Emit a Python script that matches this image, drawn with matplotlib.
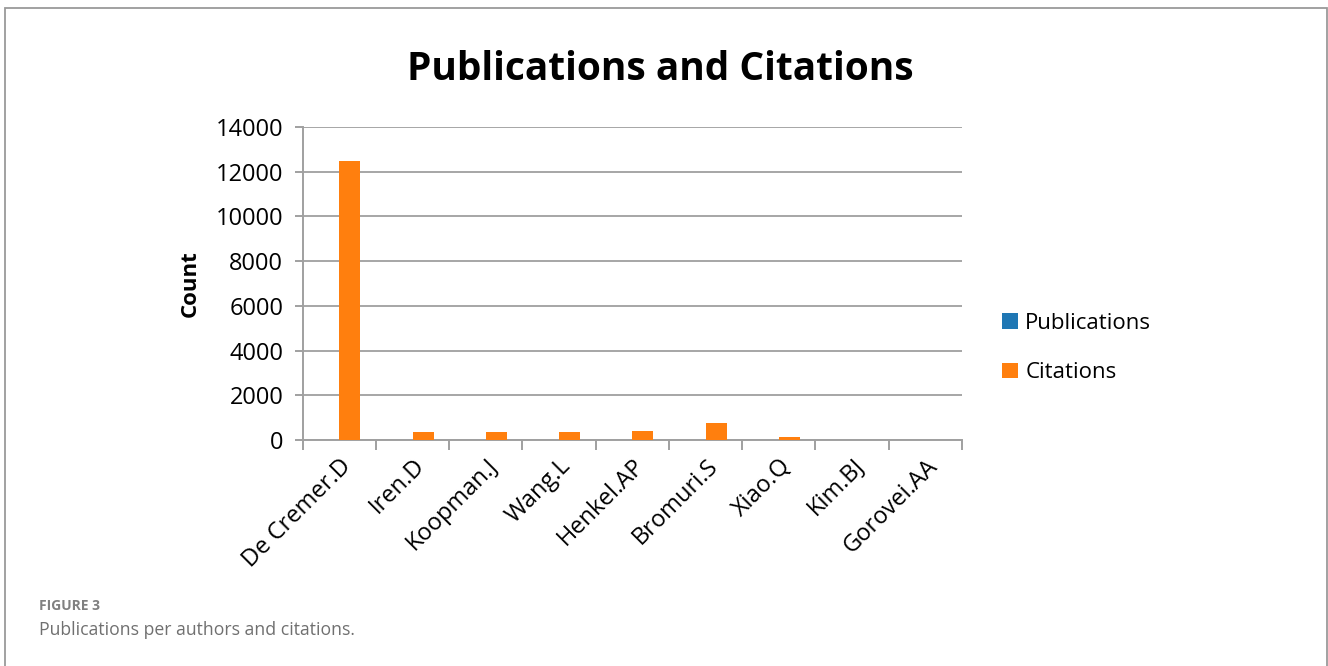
import matplotlib
matplotlib.use("Agg")
import matplotlib.pyplot as plt
from matplotlib.patches import Rectangle, Patch
import numpy as np

authors = ["De Cremer.D", "Iren.D", "Koopman.J", "Wang.L", "Henkel.AP",
           "Bromuri.S", "Xiao.Q", "Kim.BJ", "Gorovei.AA"]
publications = [8, 6, 5, 5, 5, 4, 4, 4, 4]
citations = [12500, 370, 370, 370, 390, 750, 120, 15, 10]
y_ticks = [0, 2000, 4000, 6000, 8000, 10000, 12000, 14000]

W, H = 1328, 666
plt.rcParams["font.family"] = ["Open Sans", "DejaVu Sans"]

fig = plt.figure(figsize=(W / 100, H / 100), dpi=100)
fig.patch.set_facecolor("white")

# outer frame
fig.add_artist(Rectangle((4.5 / W, -0.05), (1327 - 4.5) / W, 1.05 - 8.5 / H,
                         transform=fig.transFigure, fill=False,
                         edgecolor="#9a9a9a", linewidth=1.3))

left, right, top, bottom = 302.7, 962.0, 127.0, 440.0
ax = fig.add_axes([left / W, 1 - bottom / H, (right - left) / W, (bottom - top) / H])

x = np.arange(len(authors))
bw = 0.2857
ax.bar(x - bw / 2, publications, width=bw, color="#1f77b4", label="Publications", zorder=3)
ax.bar(x + bw / 2, citations, width=bw, color="#ff7f0e", label="Citations", zorder=3)

ax.set_xlim(-0.5, len(authors) - 0.5)
ax.set_ylim(0, 14000)
ax.set_yticks(y_ticks)
ax.set_yticklabels([str(v) for v in y_ticks], fontsize=17)
ax.yaxis.grid(True, color="#a6a6a6", linewidth=1.4, zorder=0)
ax.set_axisbelow(True)

for s in ["top", "right"]:
    ax.spines[s].set_visible(False)
for s in ["left", "bottom"]:
    ax.spines[s].set_color("#a0a0a0")
    ax.spines[s].set_linewidth(1.4)

ax.tick_params(axis="y", length=6, width=1.4, color="#a0a0a0", pad=8)
ax.set_xticks(x)
ax.set_xticklabels(authors, rotation=45, ha="right", va="top",
                   rotation_mode="anchor", fontsize=17)
ax.tick_params(axis="x", which="major", length=0, pad=10)
ax.set_xticks(np.arange(-0.5, len(authors)), minor=True)
ax.tick_params(axis="x", which="minor", length=7, width=1.4, color="#a0a0a0")

ax.set_ylabel("Count", fontsize=16, fontweight="bold", labelpad=11)

fig.text(660 / W, 1 - 70 / H, "Publications and Citations", fontsize=28,
         fontweight="bold", ha="center", va="center")

handles = [Patch(facecolor="#1f77b4", label="Publications"),
           Patch(facecolor="#ff7f0e", label="Citations")]
fig.legend(handles=handles, loc="center left",
           bbox_to_anchor=(982 / W, 1 - 348 / H), frameon=False,
           fontsize=16, handlelength=0.7, handleheight=0.7,
           handletextpad=0.35, labelspacing=1.3)

fig.text(39 / W, 1 - 606 / H, "FIGURE 3", fontsize=10, fontweight="bold",
         color="#808080", ha="left", va="center")
fig.text(39 / W, 1 - 630 / H, "Publications per authors and citations.",
         fontsize=12.7, color="#707070", ha="left", va="center")

fig.savefig("out.png", dpi=100, facecolor="white")
